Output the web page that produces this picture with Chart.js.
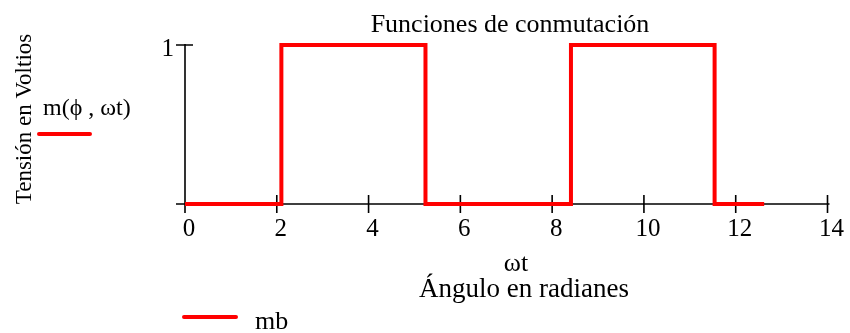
<!DOCTYPE html>
<html>
<head>
<meta charset="utf-8">
<script src="https://cdn.jsdelivr.net/npm/chart.js@4"></script>
<style>
  html, body { margin: 0; padding: 0; background: #fff; }
  canvas { display: block; }
</style>
</head>
<body>
<canvas id="switchChart" width="850" height="333"></canvas>
<script>
// Switching function m(phi, wt): on/off transitions along the angle axis
const switchAngles = [0, 2.10, 5.24, 8.41, 11.54, 12.62];
const switchState = [0, 1, 0, 1, 0, 0];

const xTickValues = [0, 2, 4, 6, 8, 10, 12, 14];
const yTickValues = [0, 1];

const chartTitle = 'Funciones de conmutación';
const yAxisLabel = 'Tensión en Voltios';
const xAxisLabels = ['ωt', 'Ángulo en radianes'];
const legendNames = ['m(ϕ , ωt)', 'mb'];

const serif = '"Liberation Serif", "Times New Roman", serif';
const lineRed = '#ff0000';

// crossed axes with ticks through the axis lines, Mathcad style
const crossAxes = {
    id: 'crossAxes',
    beforeDatasetsDraw(chart) {
        const { ctx, chartArea, scales } = chart;
        const x0 = scales.x.getPixelForValue(0);
        const y0 = scales.y.getPixelForValue(0);
        ctx.save();
        ctx.strokeStyle = '#000';
        ctx.lineWidth = 1.6;
        ctx.beginPath();
        ctx.moveTo(x0, chartArea.top - 1);
        ctx.lineTo(x0, y0);
        ctx.moveTo(x0, y0);
        ctx.lineTo(chartArea.right + 2, y0);
        xTickValues.forEach(v => {
            const px = scales.x.getPixelForValue(v);
            ctx.moveTo(px, y0 - 9);
            ctx.lineTo(px, y0 + 9);
        });
        yTickValues.forEach(v => {
            const py = scales.y.getPixelForValue(v);
            ctx.moveTo(x0 - 9, py);
            ctx.lineTo(x0 + 8, py);
        });
        ctx.stroke();
        ctx.restore();
    }
};

// titles and the two legend entries
const plotText = {
    id: 'plotText',
    afterDraw(chart) {
        const { ctx } = chart;
        ctx.save();
        ctx.fillStyle = '#000';
        ctx.textBaseline = 'alphabetic';
        ctx.textAlign = 'center';
        ctx.font = '26px ' + serif;
        ctx.fillText(chartTitle, 510, 32);
        ctx.fillText(xAxisLabels[0], 516, 271);
        ctx.font = '27px ' + serif;
        ctx.fillText(xAxisLabels[1], 524, 297);

        ctx.save();
        ctx.font = '23px ' + serif;
        ctx.translate(31, 119);
        ctx.rotate(-Math.PI / 2);
        ctx.fillText(yAxisLabel, 0, 0);
        ctx.restore();

        ctx.textAlign = 'left';
        ctx.font = '24px ' + serif;
        ctx.fillText(legendNames[0], 43, 115);
        ctx.font = '26px ' + serif;
        ctx.fillText(legendNames[1], 255, 329);

        ctx.strokeStyle = lineRed;
        ctx.lineWidth = 4;
        ctx.lineCap = 'round';
        ctx.beginPath();
        ctx.moveTo(39, 134);
        ctx.lineTo(90, 134);
        ctx.moveTo(184, 317);
        ctx.lineTo(236, 317);
        ctx.stroke();
        ctx.restore();
    }
};

new Chart(document.getElementById('switchChart'), {
    type: 'line',
    data: {
        datasets: [{
            label: legendNames[0],
            data: switchAngles.map((a, i) => ({ x: a, y: switchState[i] })),
            borderColor: lineRed,
            borderWidth: 4,
            stepped: true,
            pointRadius: 0,
            fill: false,
            clip: false,
            borderJoinStyle: 'miter',
            borderCapStyle: 'butt'
        }]
    },
    options: {
        responsive: false,
        animation: false,
        layout: { padding: { left: 0, right: 19, top: 45, bottom: 0 } },
        plugins: {
            legend: { display: false },
            title: { display: false },
            tooltip: { enabled: false }
        },
        scales: {
            x: {
                type: 'linear',
                min: 0,
                max: 14,
                afterFit: s => { s.height = 129; },
                afterBuildTicks: s => { s.ticks = xTickValues.map(v => ({ value: v })); },
                grid: { display: false, drawTicks: false },
                border: { display: false },
                ticks: {
                    color: '#000',
                    padding: 10,
                    labelOffset: 4,
                    maxRotation: 0,
                    font: { family: serif, size: 25 }
                }
            },
            y: {
                type: 'linear',
                min: 0,
                max: 1,
                afterFit: s => { s.width = 185; },
                afterBuildTicks: s => { s.ticks = yTickValues.map(v => ({ value: v })); },
                grid: { display: false, drawTicks: false },
                border: { display: false },
                ticks: {
                    color: '#000',
                    padding: 11,
                    labelOffset: 4,
                    font: { family: serif, size: 25 },
                    callback: v => (v === 1 ? '1' : '')
                }
            }
        }
    },
    plugins: [crossAxes, plotText]
});
</script>
</body>
</html>
